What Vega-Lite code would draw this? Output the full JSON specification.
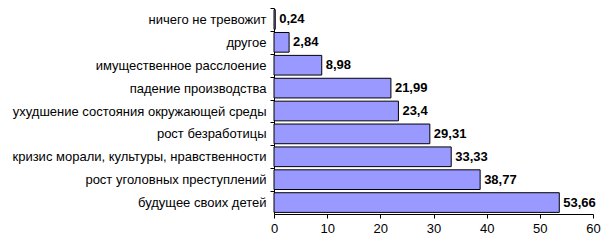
{
  "$schema": "https://vega.github.io/schema/vega-lite/v6.json",
  "autosize": {"type": "none"},
  "padding": {"left": 274, "top": 8, "right": 14, "bottom": 36},
  "width": 319,
  "height": 206,
  "background": "white",
  "config": {
    "locale": {"number": {"decimal": ",", "thousands": " ", "grouping": [3], "currency": ["", ""]}},
    "font": "Liberation Sans",
    "view": {"stroke": null}
  },
  "data": {"values": [
    {"category": "ничего не тревожит", "value": 0.24},
    {"category": "другое", "value": 2.84},
    {"category": "имущественное расслоение", "value": 8.98},
    {"category": "падение производства", "value": 21.99},
    {"category": "ухудшение состояния окружающей среды", "value": 23.4},
    {"category": "рост безработицы", "value": 29.31},
    {"category": "кризис морали, культуры, нравственности", "value": 33.33},
    {"category": "рост уголовных преступлений", "value": 38.77},
    {"category": "будущее своих детей", "value": 53.66}
  ]},
  "encoding": {
    "y": {
      "field": "category", "type": "nominal", "sort": {"field": "value", "order": "ascending"},
      "scale": {"paddingInner": 0.14, "paddingOuter": 0.07},
      "axis": {"title": null, "domainColor": "black", "tickColor": "black", "tickSize": 4,
               "tickOffset": -11.45, "labelOffset": 11.45, "labelPadding": 4,
               "labelColor": "black", "labelFontSize": 13, "labelLimit": 300}
    },
    "x": {
      "field": "value", "type": "quantitative",
      "scale": {"domain": [0, 60], "nice": false},
      "axis": {"title": null, "values": [0, 10, 20, 30, 40, 50, 60], "grid": false,
               "domainColor": "black", "tickColor": "black", "tickSize": 4,
               "labelColor": "black", "labelFontSize": 13, "labelPadding": 4,
               "labelFlush": false}
    }
  },
  "layer": [
    {"mark": {"type": "bar", "color": "#9999FF", "stroke": "black", "strokeWidth": 1}},
    {"mark": {"type": "text", "align": "left", "dx": 4, "fontWeight": "bold", "fontSize": 13, "color": "black"},
     "encoding": {"text": {"field": "value", "type": "quantitative", "format": ".4~r"}}}
  ]
}
